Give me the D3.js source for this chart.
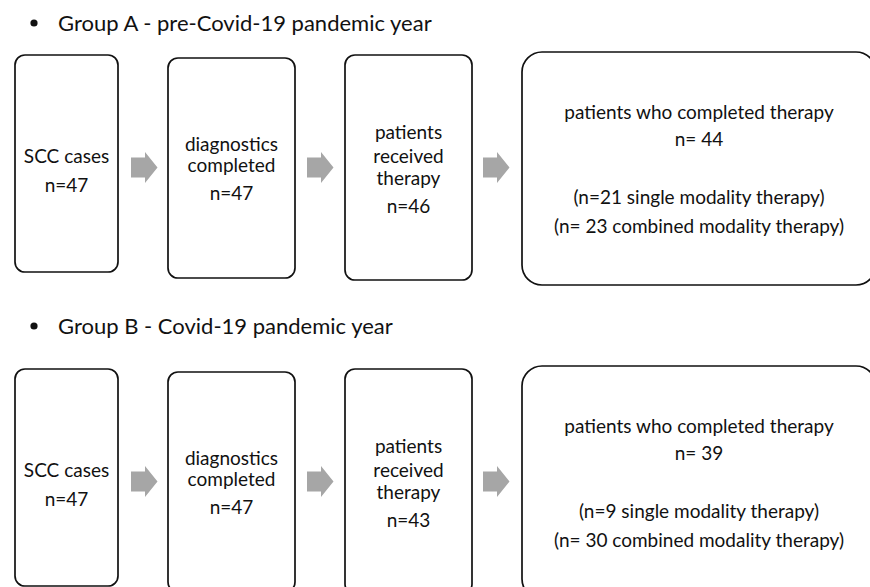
<!DOCTYPE html>
<html><head><meta charset="utf-8">
<script src="https://cdn.jsdelivr.net/npm/d3@7"></script>
<style>body{margin:0;background:#fff}</style>
</head><body>
<svg id="chart" width="870" height="587"></svg>
<script>
// ---- data ----
const groups = ["Group A - pre-Covid-19 pandemic year", "Group B - Covid-19 pandemic year"];
const stages = ["SCC cases", "diagnostics completed", "patients received therapy", "patients who completed therapy"];
const stageLines = [["SCC cases"], ["diagnostics", "completed"], ["patients", "received", "therapy"], ["patients who completed therapy"]];
const countsA = [47, 47, 46, 44];
const countsB = [47, 47, 43, 39];
const singleModality = [21, 9];
const combinedModality = [23, 30];
const counts = [countsA, countsB];

// ---- layout ----
const svg = d3.select("#chart");
const font = "Lato, 'Open Sans', sans-serif";
const gy = d3.scaleOrdinal(groups, [0, 314]);
const titleY = d3.scaleOrdinal(groups, [31, 334]);
const bx = d3.scaleOrdinal(stages, [15, 168, 345, 522]);
const bw = d3.scaleOrdinal(stages, [103, 127, 127, 354]);
const btop = d3.scaleOrdinal(stages, [55, 58, 55, 52]);
const bbot = d3.scaleOrdinal(stages, [272, 278, 280, 285]);
const brad = d3.scaleOrdinal(stages, [10, 10, 10, 20]);
// baselines of label lines, count line
const lineY = [[163], [151, 172], [139, 163, 185], [119]];
const countY = [192, 200, 213, 146];
const extraY = [204, 233];
const arrowX = [131, 307, 483];
const arrowCY = 167.5;

groups.forEach((g, gi) => {
  const off = gy(g);
  const G = svg.append("g");
  // title bullet + text
  G.append("circle").attr("cx", 34).attr("cy", titleY(g) - 8).attr("r", 3.6).attr("fill", "#111");
  G.append("text").attr("x", 58).attr("y", titleY(g))
    .attr("font-family", font).attr("font-size", 22).attr("fill", "#111").text(g);

  // boxes
  G.selectAll("rect.box").data(stages).join("rect").attr("class", "box")
    .attr("x", d => bx(d)).attr("y", d => btop(d) + off)
    .attr("width", d => bw(d)).attr("height", d => bbot(d) - btop(d))
    .attr("rx", d => brad(d)).attr("ry", d => brad(d))
    .attr("fill", "#fff").attr("stroke", "#111").attr("stroke-width", 1.7);

  // arrows
  const arrowPath = x0 => {
    const c = arrowCY + off;
    return `M${x0},${c - 10}H${x0 + 14}V${c - 15.5}L${x0 + 26.5},${c}L${x0 + 14},${c + 15.5}V${c + 10}H${x0}Z`;
  };
  G.selectAll("path.arrow").data(arrowX).join("path").attr("class", "arrow")
    .attr("d", d => arrowPath(d)).attr("fill", "#a6a6a6");

  // texts
  stages.forEach((s, si) => {
    const cx = bx(s) + bw(s) / 2;
    const lines = stageLines[si].map((t, li) => ({t, y: lineY[si][li]}));
    lines.push({t: si === 3 ? `n= ${counts[gi][si]}` : `n=${counts[gi][si]}`, y: countY[si]});
    if (si === 3) {
      lines.push({t: `(n=${singleModality[gi]} single modality therapy)`, y: extraY[0]});
      lines.push({t: `(n= ${combinedModality[gi]} combined modality therapy)`, y: extraY[1]});
    }
    G.selectAll(null).data(lines).join("text")
      .attr("x", cx).attr("y", d => d.y + off)
      .attr("text-anchor", "middle").attr("font-family", font).attr("font-size", 19)
      .attr("fill", "#111").text(d => d.t);
  });
});
</script>
</body></html>
